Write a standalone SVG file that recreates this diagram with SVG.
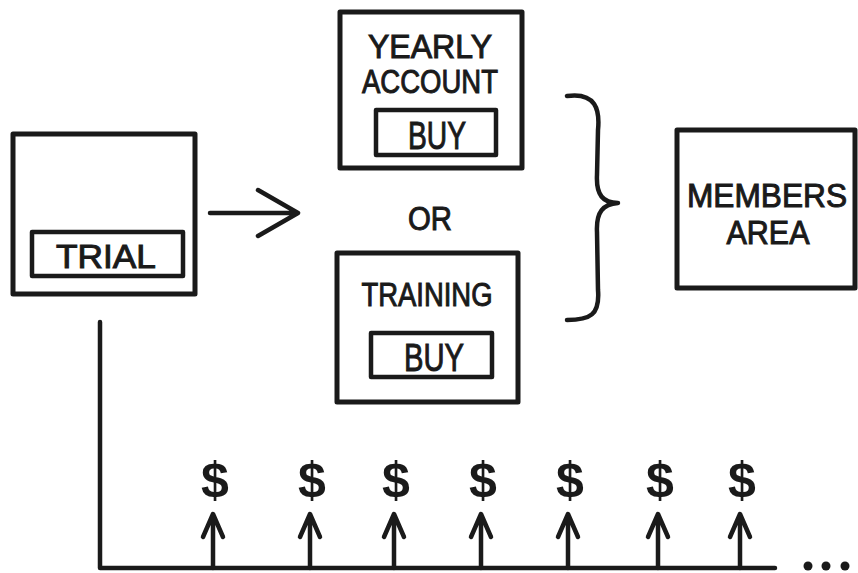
<svg xmlns="http://www.w3.org/2000/svg" width="858" height="573" viewBox="0 0 858 573">
<style>
.box{fill:none;stroke:#1a1a1a;stroke-width:5;stroke-linejoin:round;stroke-linecap:round}
.inner{fill:none;stroke:#1a1a1a;stroke-width:4.5;stroke-linejoin:round}
.ln{fill:none;stroke:#1a1a1a;stroke-width:4.5;stroke-linecap:round;stroke-linejoin:round}
.t{font-family:"Liberation Sans","DejaVu Sans",sans-serif;font-size:33px;fill:#1a1a1a;stroke:#1a1a1a;stroke-width:1;text-anchor:middle}
.b{font-size:38px}
.d{font-family:"Liberation Sans","DejaVu Sans",sans-serif;font-size:50px;font-weight:bold;fill:#1a1a1a;text-anchor:middle}
</style>
<rect width="858" height="573" fill="#ffffff"/>
<g id="trial">
<rect class="box" x="13" y="134" width="182" height="160"/>
<rect class="inner" x="32" y="232" width="151" height="44"/>
<text class="t" x="106" y="268" textLength="100" lengthAdjust="spacingAndGlyphs">TRIAL</text>
</g>
<g id="yearly">
<rect class="box" x="340" y="12" width="182" height="156"/>
<text class="t" x="430" y="58" textLength="124" lengthAdjust="spacingAndGlyphs">YEARLY</text>
<text class="t" x="430" y="93" textLength="136" lengthAdjust="spacingAndGlyphs">ACCOUNT</text>
<rect class="inner" x="376" y="110" width="120" height="45"/>
<text class="t b" x="437" y="149" textLength="58" lengthAdjust="spacingAndGlyphs">BUY</text>
</g>
<g id="or">
<text class="t" x="430" y="230" textLength="44" lengthAdjust="spacingAndGlyphs">OR</text>
</g>
<g id="training">
<rect class="box" x="337" y="253" width="181" height="149"/>
<text class="t" x="427" y="306" textLength="131" lengthAdjust="spacingAndGlyphs">TRAINING</text>
<rect class="inner" x="371" y="333" width="121" height="44"/>
<text class="t b" x="434" y="371" textLength="60" lengthAdjust="spacingAndGlyphs">BUY</text>
</g>
<g id="members">
<rect class="box" x="677" y="130" width="178" height="158"/>
<text class="t" x="767" y="207" textLength="160" lengthAdjust="spacingAndGlyphs">MEMBERS</text>
<text class="t" x="768" y="244" textLength="83" lengthAdjust="spacingAndGlyphs">AREA</text>
</g>
<g id="connectors">
<path class="ln" d="M210 213 H298 M258 190 L298 213 L258 236"/>
<path class="ln" d="M567 96 C 596 92, 600 110, 598 130 L 597 175 C 596 195, 603 203, 618 203 C 603 204, 596 212, 597 232 L 598 290 C 600 315, 590 320, 567 320"/>
<path class="ln" d="M100 322 V568 H775"/>
<path class="ln" d="M213 568 V516 M203 537 L213 514 L223 537"/>
<path class="ln" d="M310 568 V516 M300 537 L310 514 L320 537"/>
<path class="ln" d="M394 568 V516 M384 537 L394 514 L404 537"/>
<path class="ln" d="M481 568 V516 M471 537 L481 514 L491 537"/>
<path class="ln" d="M568 568 V516 M558 537 L568 514 L578 537"/>
<path class="ln" d="M658 568 V516 M648 537 L658 514 L668 537"/>
<path class="ln" d="M740 568 V516 M730 537 L740 514 L750 537"/>
</g>
<g id="dollars">
<text class="d" x="215" y="497">$</text>
<text class="d" x="312" y="497">$</text>
<text class="d" x="396" y="497">$</text>
<text class="d" x="483" y="497">$</text>
<text class="d" x="570" y="497">$</text>
<text class="d" x="660" y="497">$</text>
<text class="d" x="742" y="497">$</text>
</g>
<g id="ellipsis" fill="#1a1a1a">
<circle cx="808" cy="566" r="4.5"/>
<circle cx="826" cy="566" r="4.5"/>
<circle cx="845" cy="566" r="4.5"/>
</g>
</svg>
